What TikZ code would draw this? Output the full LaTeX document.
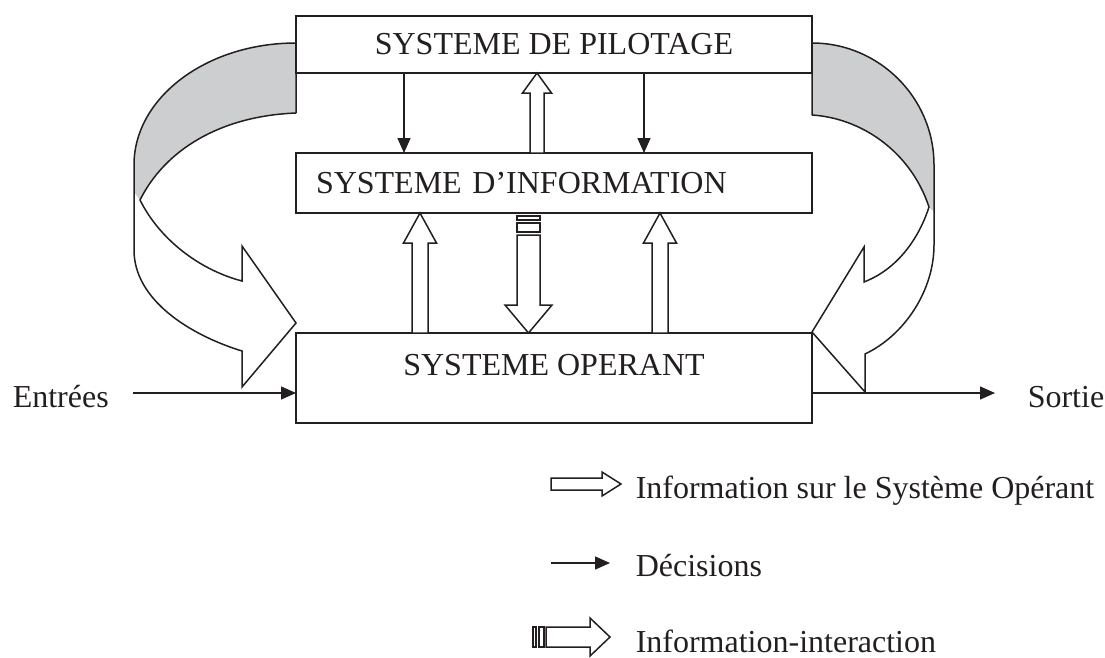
\documentclass[tikz,border=0pt]{standalone}
\usepackage{fontspec}
\setmainfont{Liberation Serif}
\usetikzlibrary{arrows.meta, calc, positioning}

\definecolor{bandgray}{RGB}{205,206,208}
\definecolor{inkline}{RGB}{35,31,32}

% hollow block arrow: tail, tip, head length, shaft half width, head half width
\newcommand{\fatarrow}[5]{%
  \path ($(#2)!#3!(#1)$) coordinate (fa-h);
  \draw[hollow] (#2) -- ($(fa-h)!#5!90:(#2)$) -- ($(fa-h)!#4!90:(#2)$)
    -- ($(#1)!#4!90:(#2)$) -- ($(#1)!#4!-90:(#2)$)
    -- ($(fa-h)!#4!-90:(#2)$) -- ($(fa-h)!#5!-90:(#2)$) -- cycle;
}

\begin{document}
\begin{tikzpicture}[
  x=1pt, y=-1pt,
  color=inkline,
  line width=1.5pt,
  every node/.style={font=\fontsize{32}{38}\selectfont, inner sep=0pt},
  sysbox/.style={draw, fill=white, minimum width=516pt, inner sep=0pt, outer sep=0pt},
  hollow/.style={draw, fill=white, line join=miter},
  ribbon/.style={draw, line join=miter},
  decision/.style={-{Triangle[length=15pt,width=13pt]}}
]
\useasboundingbox (0,0) rectangle (1105,657);

% ------------------- Left: feedback loop ------------------- %
\fill[bandgray] (296,43) .. controls (206.5,43) and (134,97.6) .. (134,165)
  -- (134,192) -- (140,200) .. controls (165,150) and (220,116) .. (296,113) -- cycle;
\draw[ribbon] (296,113) -- (296,43) .. controls (206.5,43) and (134,97.6) .. (134,165)
  -- (134,250) .. controls (134,300) and (190,335) .. (242,351)
  -- (242,387) -- (296,323) -- (242,246) -- (242,281)
  .. controls (200,270) and (160,240) .. (140,200)
  .. controls (165,150) and (220,116) .. (296,113);

% ------------------- Right: feedback loop ------------------- %
\fill[bandgray] (812,43) .. controls (878.8,43) and (934,97.6) .. (934,165)
  -- (934,212) -- (929,207) .. controls (910,150) and (860,118) .. (812,115) -- cycle;
\draw[ribbon] (812,115) -- (812,43) .. controls (878.8,43) and (934,97.6) .. (934,165)
  -- (934,245) .. controls (934,290) and (905,335) .. (865,354)
  -- (865,392) -- (812,332) -- (864,247) -- (864,282)
  .. controls (900,268) and (920,235) .. (929,207)
  .. controls (910,150) and (860,118) .. (812,115);

% The three systems
\node[sysbox, minimum height=57pt] (pilot) at (554,44.5) {SYSTEME DE PILOTAGE};
\node[sysbox, minimum height=60pt, below=80pt of pilot, text width=476pt,
  inner xsep=20pt, align=left] (info) {SYSTEME D’INFORMATION};
\node[sysbox, minimum height=90pt, below=120pt of info, text depth=26pt] (oper) {SYSTEME OPERANT};

% Decisions
\foreach \x in {404,644}
  \draw[decision] (\x,0 |- pilot.south) -- (\x,0 |- info.north);

% Information flowing up
\fatarrow{537,0 |- info.north}{537,0 |- pilot.south}{20pt}{7pt}{14.5pt}
\foreach \x in {420,660} {
  \fatarrow{\x,0 |- oper.north}{\x,0 |- info.south}{30pt}{8pt}{16.5pt}
}

% Information-interaction going down
\coordinate (itop) at (528.5,0 |- info.south);
\coordinate (itail) at ($(itop)+(0,22)$);
\draw[hollow] ($(itop)+(-11.5,3)$) rectangle ++(23,4);
\draw[hollow] ($(itop)+(-11.5,10)$) rectangle ++(23,9);
\fatarrow{itail}{528.5,0 |- oper.north}{28pt}{11.5pt}{23.5pt}

% Inputs and output
\node[anchor=base west] (entrees) at (12,407) {Entrées};
\coordinate (inflow) at (133,393);
\draw[decision] (inflow) -- (inflow -| oper.west);
\node[anchor=base west] (sortie) at (1027,407) {Sortie};
\coordinate (outflow) at (995,393);
\draw[decision] (outflow -| oper.east) -- (outflow);

% ------------------- Legend ------------------- %
\coordinate (lgA) at (551,484);
\coordinate (lgB) at (621,484);
\fatarrow{lgA}{lgB}{19pt}{6pt}{12pt}
\node[anchor=base west] (lgInfo) at (635,498) {Information sur le Système Opérant};

\coordinate (lgC) at (551,563);
\coordinate (lgD) at (610,563);
\draw[decision] (lgC) -- (lgD);
\node[anchor=base west] (lgDec) at (635,576) {Décisions};

\draw[hollow] (533,627) rectangle (536,647);
\draw[hollow] (539,627) rectangle (544,647);
\coordinate (lgE) at (546,637);
\coordinate (lgF) at (610,637);
\fatarrow{lgE}{lgF}{20pt}{10pt}{19pt}
\node[anchor=base west] (lgInter) at (635,652) {Information-interaction};

\end{tikzpicture}
\end{document}
